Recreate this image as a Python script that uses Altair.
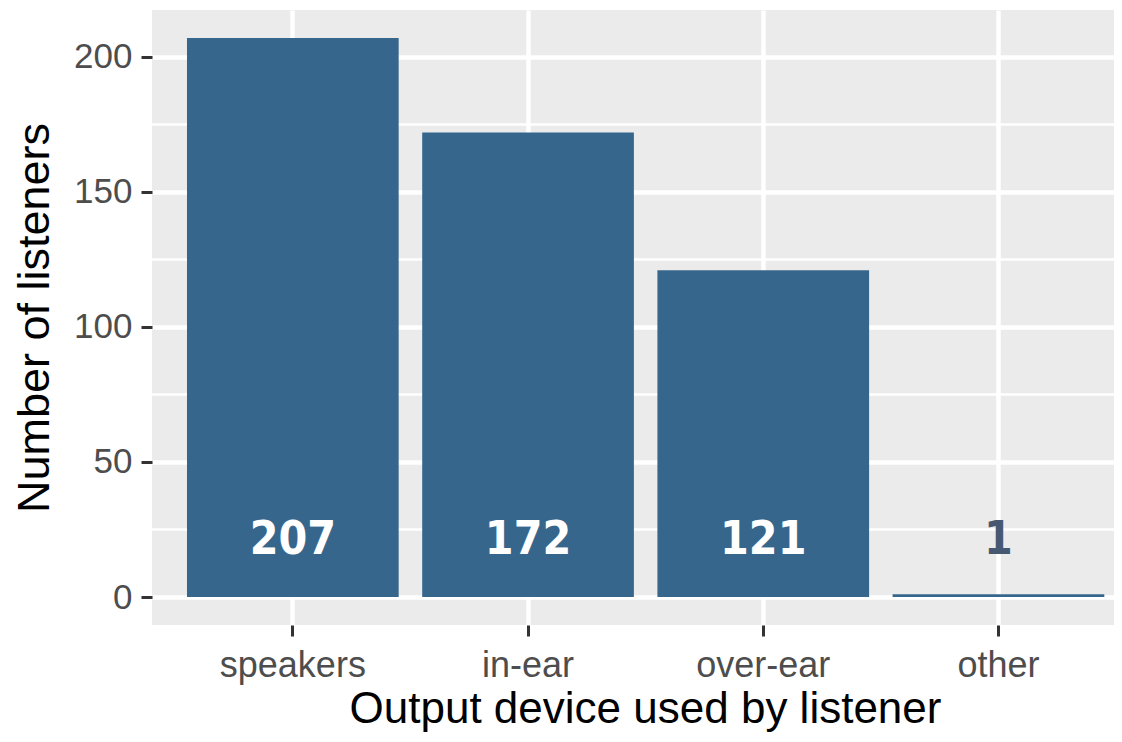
import altair as alt
import pandas as pd

devices = ["speakers", "in-ear", "over-ear", "other"]
counts = [207, 172, 121, 1]
label_colors = ["#FFFFFF", "#FFFFFF", "#FFFFFF", "#475872"]
major_ticks = [0, 50, 100, 150, 200]
minor_ticks = [25, 75, 125, 175]
label_level = 21  # value at which the count labels are centred
y_domain = [-10.35, 217.35]

df = pd.DataFrame({"device": devices, "count": counts, "label_color": label_colors})
minor_df = pd.DataFrame({"v": minor_ticks})

FONT = "Liberation Sans"
yscale = alt.Scale(domain=y_domain, nice=False, zero=False)
xscale = alt.Scale(domain=devices, paddingInner=0.1, paddingOuter=0.095, align=0.783)

x_axis = alt.Axis(
    title="Output device used by listener", labelAngle=0, grid=True, bandPosition=0.5,
    gridColor="white", gridWidth=4.5, domain=False, ticks=True, tickColor="#333333",
    tickSize=11, tickWidth=3, labelFont=FONT, labelFontSize=36, labelColor="#4D4D4D",
    labelPadding=12, titleFont=FONT, titleFontSize=44, titleFontWeight="normal",
    titleColor="black", titlePadding=4, titleX=493,
)
y_axis = alt.Axis(
    title="Number of listeners", values=major_ticks, grid=True, gridColor="white",
    gridWidth=4.5, domain=False, ticks=True, tickColor="#333333", tickSize=11,
    tickWidth=3, labelFont=FONT, labelFontSize=35, labelColor="#4D4D4D",
    labelPadding=9, titleFont=FONT, titleFontSize=45, titleFontWeight="normal",
    titleColor="black", titlePadding=16,
)

minor = alt.Chart(minor_df).mark_rule(color="white", strokeWidth=2.5).encode(
    y=alt.Y("v:Q", scale=yscale, axis=y_axis)
)

base = alt.Chart(df)
bars = base.mark_bar(color="#37668D").encode(
    x=alt.X("device:N", sort=devices, scale=xscale, axis=x_axis),
    y=alt.Y("count:Q", scale=yscale, axis=y_axis),
    y2=alt.Y2(datum=0),
)
labels = base.mark_text(
    font="DejaVu Sans Condensed, Liberation Sans Narrow, Roboto Condensed, Roboto",
    fontWeight="bold", fontSize=46, baseline="middle"
).encode(
    x=alt.X("device:N", sort=devices, scale=xscale, axis=x_axis),
    y=alt.Y(datum=label_level, scale=yscale, axis=y_axis),
    text=alt.Text("count:Q"),
    color=alt.Color("label_color:N", scale=None),
)

chart = (
    alt.layer(minor, bars, labels)
    .resolve_scale(x="shared", y="shared")
    .properties(
        width=962, height=615,
        autosize=alt.AutoSizeParams(type="none"),
        padding={"left": 144, "top": 2, "right": 0, "bottom": 109},
        background="white",
    )
    .configure_view(fill="#EBEBEB", stroke=None, strokeWidth=0)
)

chart.save("out.html", embed_options={"renderer": "svg", "actions": False})
